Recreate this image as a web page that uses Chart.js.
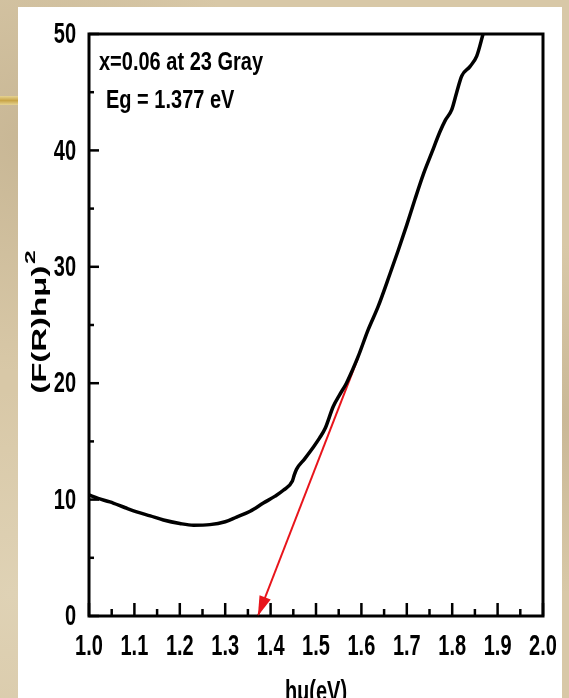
<!DOCTYPE html>
<html>
<head>
<meta charset="utf-8">
<script src="https://cdn.jsdelivr.net/npm/chart.js@4.4.1/dist/chart.umd.min.js"></script>
<style>
  html, body { margin: 0; padding: 0; }
  body { width: 569px; height: 698px; overflow: hidden; position: relative;
         background:
           radial-gradient(circle at 5% 20%, rgba(170,150,115,0.35), transparent 30%),
           radial-gradient(circle at 98% 60%, rgba(175,155,120,0.35), transparent 25%),
           radial-gradient(circle at 2% 85%, rgba(230,220,195,0.5), transparent 25%),
           #d8c8a7; }
  #stripe { position: absolute; left: 0; top: 96px; width: 18px; height: 9px;
            background: linear-gradient(#e6d392, #c8a548, #e6d392); }
  #panel { position: absolute; left: 18px; top: 7px; width: 544px; height: 691px; background: #fff; }
  canvas { display: block; }
</style>
</head>
<body>
<div id="stripe"></div>
<div id="panel"><canvas id="bandGapChart" width="544" height="691"></canvas></div>
<script>
// (F(R)hv)^2 against photon energy
const energy = [1.00, 1.02, 1.046, 1.08, 1.105, 1.135, 1.164, 1.20, 1.23, 1.266,
  1.30, 1.325, 1.355, 1.384, 1.41, 1.428, 1.448, 1.452, 1.457, 1.475,
  1.494, 1.508, 1.52, 1.538, 1.552, 1.567, 1.58, 1.593, 1.615, 1.637,
  1.663, 1.681, 1.70, 1.718, 1.736, 1.755, 1.773, 1.785, 1.799, 1.81,
  1.821, 1.839, 1.854, 1.868];
const kmSquared = [10.4, 10.1, 9.8, 9.3, 8.95, 8.6, 8.25, 7.95, 7.8, 7.85,
  8.1, 8.5, 9.0, 9.7, 10.3, 10.8, 11.6, 12.1, 12.6, 13.5,
  14.5, 15.3, 16.1, 18.0, 19.0, 20.0, 21.1, 22.3, 24.6, 26.6,
  29.4, 31.4, 33.6, 35.8, 37.9, 39.8, 41.6, 42.6, 43.5, 45.0,
  46.4, 47.2, 48.1, 50.0];
// linear extrapolation to the energy axis (arrow tip first)
const fitEnergy = [1.372, 1.593];
const fitValue = [0, 22.2];
const xTicks = [1.0, 1.1, 1.2, 1.3, 1.4, 1.5, 1.6, 1.7, 1.8, 1.9, 2.0];
const yTicks = [0, 10, 20, 30, 40, 50];
const notes = ['x=0.06 at 23 Gray', 'Eg = 1.377 eV'];
const xTitle = 'hμ(eV)';
const yTitle = '(F(R)hμ)';

const face = '"Liberation Sans", Arial, sans-serif';

function midpoints(arr) {
  const out = [];
  for (let i = 0; i < arr.length - 1; i++) out.push((arr[i] + arr[i + 1]) / 2);
  return out;
}

// the source picture is stretched vertically, so text is drawn taller than wide
function tallText(ctx, str, x, y, sy) {
  ctx.save();
  ctx.translate(x, y);
  ctx.scale(1, sy);
  ctx.fillText(str, 0, 0);
  ctx.restore();
}

// frame, inward ticks, tick labels, arrow head, notes and axis titles
const decorations = {
  id: 'decorations',
  afterDraw(chart) {
    const ctx = chart.ctx;
    const a = chart.chartArea;
    const xs = chart.scales.x, ys = chart.scales.y;
    ctx.save();
    ctx.strokeStyle = '#000';
    ctx.fillStyle = '#000';
    ctx.lineCap = 'butt';

    ctx.lineWidth = 2.5;
    xTicks.forEach(v => tick(xs.getPixelForValue(v), a.bottom, 0, -13));
    midpoints(xTicks).forEach(v => tick(xs.getPixelForValue(v), a.bottom, 0, -7));
    yTicks.forEach(v => tick(a.left, ys.getPixelForValue(v), 10, 0));
    midpoints(yTicks).forEach(v => tick(a.left, ys.getPixelForValue(v), 5, 0));

    ctx.lineWidth = 3;
    ctx.strokeRect(a.left, a.top, a.right - a.left, a.bottom - a.top);

    // tick labels from the scales
    ctx.font = 'bold 20px ' + face;
    ctx.textAlign = 'center';
    ctx.textBaseline = 'alphabetic';
    xs.ticks.forEach(t => tallText(ctx, t.value.toFixed(1), xs.getPixelForValue(t.value), a.bottom + 39, 1.5));
    ctx.textAlign = 'right';
    ctx.textBaseline = 'middle';
    ys.ticks.forEach(t => tallText(ctx, String(t.value), a.left - 13, ys.getPixelForValue(t.value) + 1, 1.5));

    // arrow head at the foot of the red line
    const meta = chart.getDatasetMeta(1).data;
    const tip = meta[0], tail = meta[1];
    const ang = Math.atan2(tip.y - tail.y, tip.x - tail.x);
    const len = 20, half = 6;
    ctx.fillStyle = '#e8141b';
    ctx.beginPath();
    ctx.moveTo(tip.x, tip.y);
    ctx.lineTo(tip.x - len * Math.cos(ang) + half * Math.sin(ang), tip.y - len * Math.sin(ang) - half * Math.cos(ang));
    ctx.lineTo(tip.x - len * Math.cos(ang) - half * Math.sin(ang), tip.y - len * Math.sin(ang) + half * Math.cos(ang));
    ctx.closePath();
    ctx.fill();

    ctx.fillStyle = '#000';
    ctx.font = 'bold 20px ' + face;
    ctx.textBaseline = 'alphabetic';
    ctx.textAlign = 'left';
    tallText(ctx, notes[0], a.left + 10, a.top + 36, 1.3);
    tallText(ctx, notes[1], a.left + 17, a.top + 74, 1.3);

    ctx.textAlign = 'center';
    tallText(ctx, xTitle, (a.left + a.right) / 2, chart.height + 3, 1.5);

    // rotated y title with superscript 2
    ctx.save();
    ctx.translate(21, (a.top + a.bottom) / 2 - 3);
    ctx.rotate(-Math.PI / 2);
    ctx.scale(1.65, 1);
    ctx.font = 'bold 20px ' + face;
    ctx.textBaseline = 'middle';
    ctx.textAlign = 'left';
    const wm = ctx.measureText(yTitle).width;
    ctx.font = 'bold 15px ' + face;
    const ws = ctx.measureText('2').width;
    const start = -(wm + 1 + ws) / 2;
    ctx.fillText('2', start + wm + 1, -8);
    ctx.font = 'bold 20px ' + face;
    ctx.fillText(yTitle, start, 1);
    ctx.restore();

    ctx.restore();

    function tick(x, y, dx, dy) {
      ctx.beginPath();
      ctx.moveTo(x, y);
      ctx.lineTo(x + dx, y + dy);
      ctx.stroke();
    }
  }
};

const ctx = document.getElementById('bandGapChart').getContext('2d');
const bandGapChart = new Chart(ctx, {
  type: 'line',
  data: {
    datasets: [{
      label: '(F(R)hμ)²',
      data: energy.map((e, i) => ({ x: e, y: kmSquared[i] })),
      borderColor: '#000',
      borderWidth: 3.5,
      pointRadius: 0,
      cubicInterpolationMode: 'monotone',
      clip: 4
    }, {
      label: 'Eg fit',
      data: fitEnergy.map((e, i) => ({ x: e, y: fitValue[i] })),
      borderColor: '#e8141b',
      borderWidth: 2,
      pointRadius: 0,
      tension: 0
    }]
  },
  options: {
    responsive: false,
    animation: false,
    layout: { padding: { top: 27, right: 19, left: 0, bottom: 0 } },
    plugins: { legend: { display: false }, tooltip: { enabled: false } },
    scales: {
      x: {
        type: 'linear',
        min: 1,
        max: 2,
        afterBuildTicks: s => { s.ticks = xTicks.map(v => ({ value: v })); },
        afterFit: s => { s.height = 82; s.paddingLeft = 0; s.paddingRight = 0; },
        grid: { display: false, drawTicks: false },
        border: { display: false },
        ticks: { display: false }
      },
      y: {
        min: 0,
        max: 50,
        afterBuildTicks: s => { s.ticks = yTicks.map(v => ({ value: v })); },
        afterFit: s => { s.width = 71; s.paddingTop = 0; s.paddingBottom = 0; },
        grid: { display: false, drawTicks: false },
        border: { display: false },
        ticks: { display: false }
      }
    }
  },
  plugins: [decorations]
});
</script>
</body>
</html>
